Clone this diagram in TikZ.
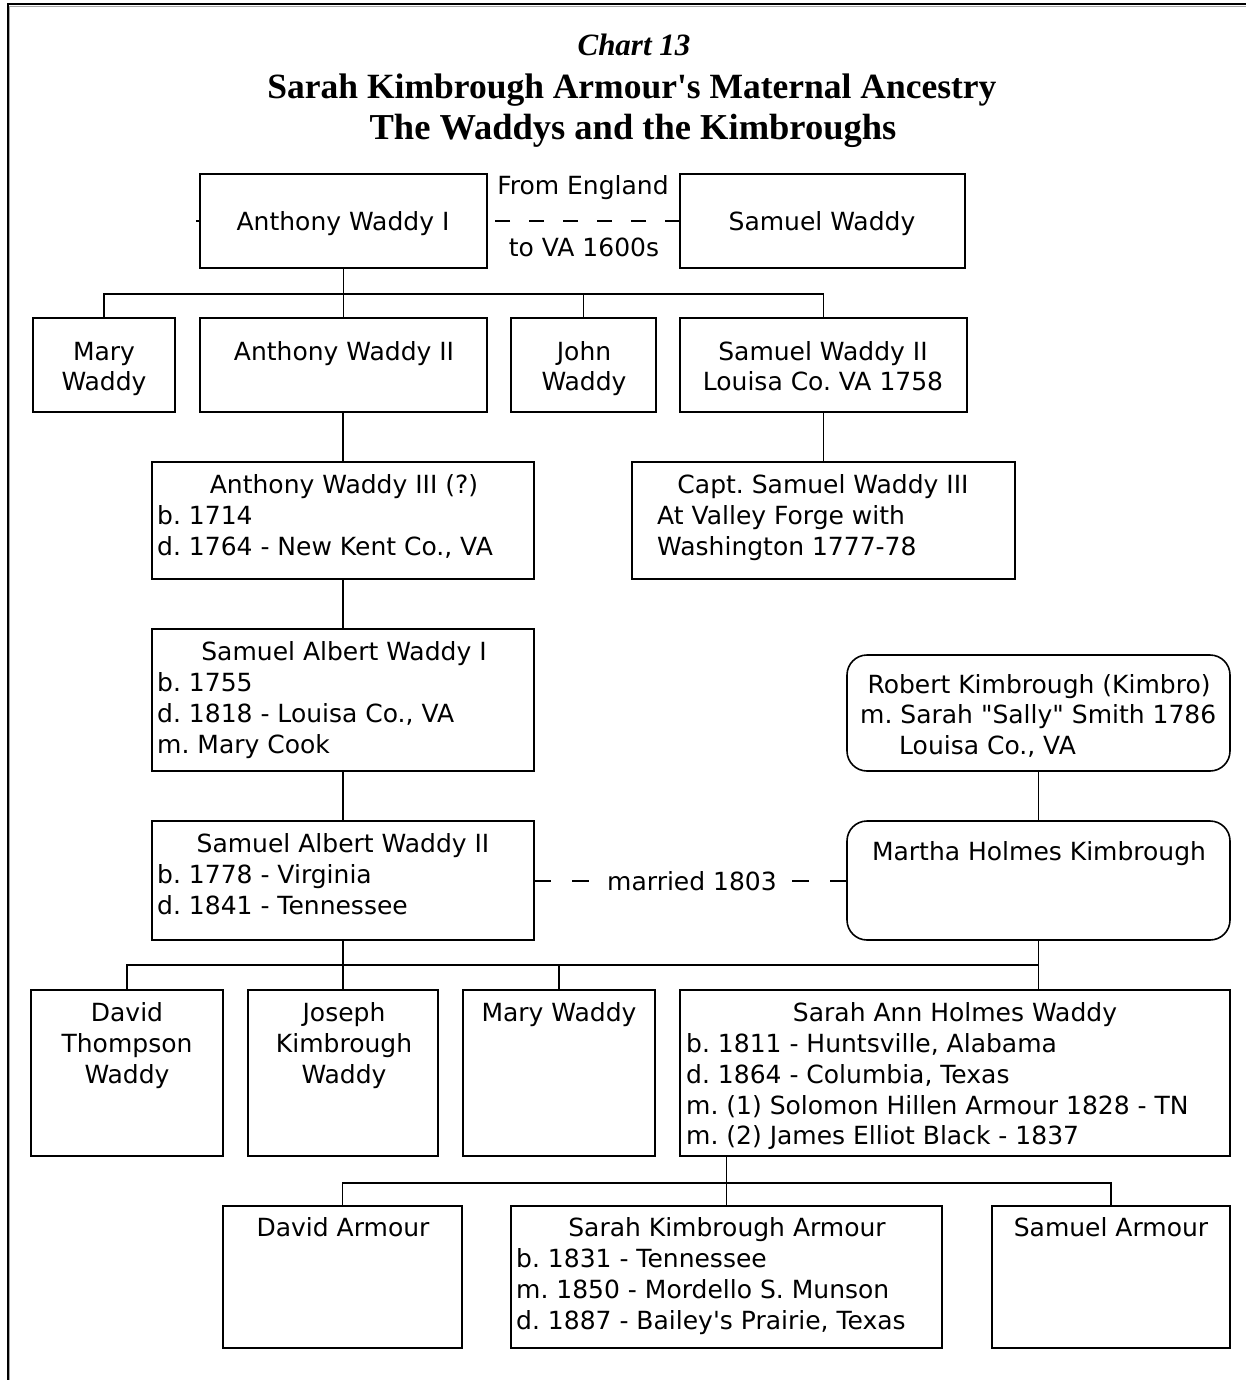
\documentclass[tikz,border=0pt]{standalone}
\usepackage{fontspec}
\setmainfont{DejaVu Sans}
\newfontfamily\titlefont{Liberation Serif}
\frenchspacing

% a box given by its left, top, right and bottom edges (y grows downwards)
\newcommand\famcell[6][box]{%
  \node[#1,minimum width={(#5-#3)*1pt},minimum height={(#6-#4)*1pt}]
    (#2) at ({(#3+#5)/2},{(#4+#6)/2}) {};}

\begin{document}
\begin{tikzpicture}[x=1pt,y=-1pt,
  box/.style={draw=black,line width=1.6pt,inner sep=0pt,outer sep=0pt},
  rbox/.style={box,rounded corners=20pt},
  link/.style={draw=black,line width=1.6pt},
  dashlink/.style={link,dash pattern=on 17pt off 21pt},
  txt/.style={inner sep=0pt,anchor=base,font=\fontsize{25}{30}\selectfont},
  ltxt/.style={txt,anchor=base west},
  ttl/.style={inner sep=0pt,anchor=base,font=\titlefont\bfseries\fontsize{35.5}{40}\selectfont},
]
\fill[white] (0,0) rectangle (1246,1380);
\useasboundingbox (0,0) rectangle (1246,1380);

% page frame: left and top edges only
\draw[line width=2pt] (7.5,1380) -- (7.5,4.5) -- (1246,4.5);
\draw[black!35,line width=1.2pt] (9.3,1380) -- (9.3,6.3) -- (1246,6.3);

% headings
\node[inner sep=0pt,anchor=base,font=\titlefont\bfseries\itshape\fontsize{31}{36}\selectfont]
  (chart) at (634,55.5) {Chart 13};
\node[ttl] (title1) at (632,98.5) {Sarah Kimbrough Armour\textquotesingle s Maternal Ancestry};
\node[ttl,font=\titlefont\bfseries\fontsize{36.5}{40}\selectfont] (title2) at (633,139.5) {The Waddys and the Kimbroughs};

% ---- boxes ----
\famcell{aw1}{200}{174}{487}{268}
\famcell{sw}{680}{174}{965}{268}
\famcell{mary1}{33}{318}{175}{412}
\famcell{aw2}{200}{318}{487}{412}
\famcell{john}{511}{318}{656}{412}
\famcell{sw2}{680}{318}{967}{412}
\famcell{aw3}{152}{462}{534}{579}
\famcell{capt}{632}{462}{1015}{579}
\famcell{sa1}{152}{629}{534}{771}
\famcell{sa2}{152}{821}{534}{940}
\famcell[rbox]{rk}{847}{655}{1230}{771}
\famcell[rbox]{mhk}{847}{821}{1230}{940}
\famcell{dtw}{31}{990}{223}{1156}
\famcell{jkw}{248}{990}{438}{1156}
\famcell{mw}{463}{990}{655}{1156}
\famcell{sahw}{680}{990}{1230}{1156}
\famcell{da}{223}{1206}{462}{1348}
\famcell{ska}{511}{1206}{942}{1348}
\famcell{sam}{992}{1206}{1230}{1348}

% ---- texts ----
\node[txt] (aw1t) at (343,230) {Anthony Waddy I};
\node[txt] (swt) at (822,230) {Samuel Waddy};
\node[txt] (from) at (583,195) {From England};
\node[txt] (tova) at (584,256) {to VA 1600s};

\node[txt] (mary1a) at (104,360) {Mary};
\node[txt] (mary1b) at (104,390) {Waddy};
\node[txt] (aw2t) at (344,360) {Anthony Waddy II};
\node[txt] (johna) at (584,360) {John};
\node[txt] (johnb) at (584,390) {Waddy};
\node[txt] (sw2a) at (823,360) {Samuel Waddy II};
\node[txt] (sw2b) at (823,390) {Louisa Co. VA 1758};

\node[txt] (aw3a) at (344,493) {Anthony Waddy III (?)};
\node[ltxt] (aw3b) at (157,524) {b. 1714};
\node[ltxt] (aw3c) at (157,555) {d. 1764 - New Kent Co., VA};

\node[txt] (capta) at (823,493) {Capt. Samuel Waddy III};
\node[ltxt] (captb) at (657,524) {At Valley Forge with};
\node[ltxt] (captc) at (657,555) {Washington 1777-78};

\node[txt] (sa1a) at (344,660) {Samuel Albert Waddy I};
\node[ltxt] (sa1b) at (157,691) {b. 1755};
\node[ltxt] (sa1c) at (157,722) {d. 1818 - Louisa Co., VA};
\node[ltxt] (sa1d) at (157,753) {m. Mary Cook};

\node[txt] (sa2a) at (343,852) {Samuel Albert Waddy II};
\node[ltxt] (sa2b) at (157,883) {b. 1778 - Virginia};
\node[ltxt] (sa2c) at (157,914) {d. 1841 - Tennessee};

\node[txt] (rka) at (1039,693) {Robert Kimbrough (Kimbro)};
\node[ltxt] (rkb) at (860,723) {m. Sarah \textquotedbl Sally\textquotedbl{} Smith 1786};
\node[ltxt] (rkc) at (899,754) {Louisa Co., VA};

\node[txt] (mhkt) at (1039,860) {Martha Holmes Kimbrough};

\node[txt] (dtwa) at (127,1021) {David};
\node[txt] (dtwb) at (127,1052) {Thompson};
\node[txt] (dtwc) at (127,1083) {Waddy};
\node[txt] (jkwa) at (344,1021) {Joseph};
\node[txt] (jkwb) at (344,1052) {Kimbrough};
\node[txt] (jkwc) at (344,1083) {Waddy};
\node[txt] (mwt) at (559,1021) {Mary Waddy};

\node[txt] (sahwa) at (955,1021) {Sarah Ann Holmes Waddy};
\node[ltxt] (sahwb) at (686,1052) {b. 1811 - Huntsville, Alabama};
\node[ltxt] (sahwc) at (686,1083) {d. 1864 - Columbia, Texas};
\node[ltxt] (sahwd) at (686,1114) {m. (1) Solomon Hillen Armour 1828 - TN};
\node[ltxt] (sahwe) at (686,1144) {m. (2) James Elliot Black - 1837};

\node[txt] (dat) at (343,1236) {David Armour};
\node[txt] (skaa) at (727,1236) {Sarah Kimbrough Armour};
\node[ltxt] (skab) at (516,1267) {b. 1831 - Tennessee};
\node[ltxt] (skac) at (516,1298) {m. 1850 - Mordello S. Munson};
\node[ltxt] (skad) at (516,1329) {d. 1887 - Bailey\textquotesingle s Prairie, Texas};
\node[txt] (samt) at (1111,1236) {Samuel Armour};

% ---- connectors ----
\coordinate (bar1) at (0,294);
\coordinate (bar2) at (0,965);
\coordinate (bar3) at (0,1183);

\draw[link] (aw1.west) -- ++(-4,0);
\draw[link,dash pattern=on 15pt off 19pt] (sw.west) -- (aw1.east);

\draw[link] (aw1.south) -- (aw2.north);
\draw[link] (mary1.north) |- (sw2.north |- bar1) -- (sw2.north);
\draw[link] (john.north) -- (john.north |- bar1);

\draw[link] (aw3.north |- aw2.south) -- (aw3.north);
\draw[link] (sw2.south) -- (sw2.south |- capt.north);
\draw[link] (aw3.south) -- (sa1.north);
\draw[link] (sa1.south) -- (sa2.north);
\draw[link] (rk.south) -- (mhk.north);

\node[txt,anchor=center,inner xsep=7pt] (wed) at (692,881) {married 1803};
\draw[dashlink] (sa2.east |- wed) -- (wed.west);
\draw[dashlink] (mhk.west |- wed) -- (wed.east);

\draw[link] (sa2.south) -- (jkw.north);
\draw[link] (mhk.south) -- (mhk.south |- sahw.north);
\draw[link] (dtw.north) |- (mhk.south |- bar2);
\draw[link] (mw.north) -- (mw.north |- bar2);

\draw[link] (ska.north) -- (ska.north |- sahw.south);
\draw[link] (da.north) |- (sam.north |- bar3) -- (sam.north);
\end{tikzpicture}
\end{document}
